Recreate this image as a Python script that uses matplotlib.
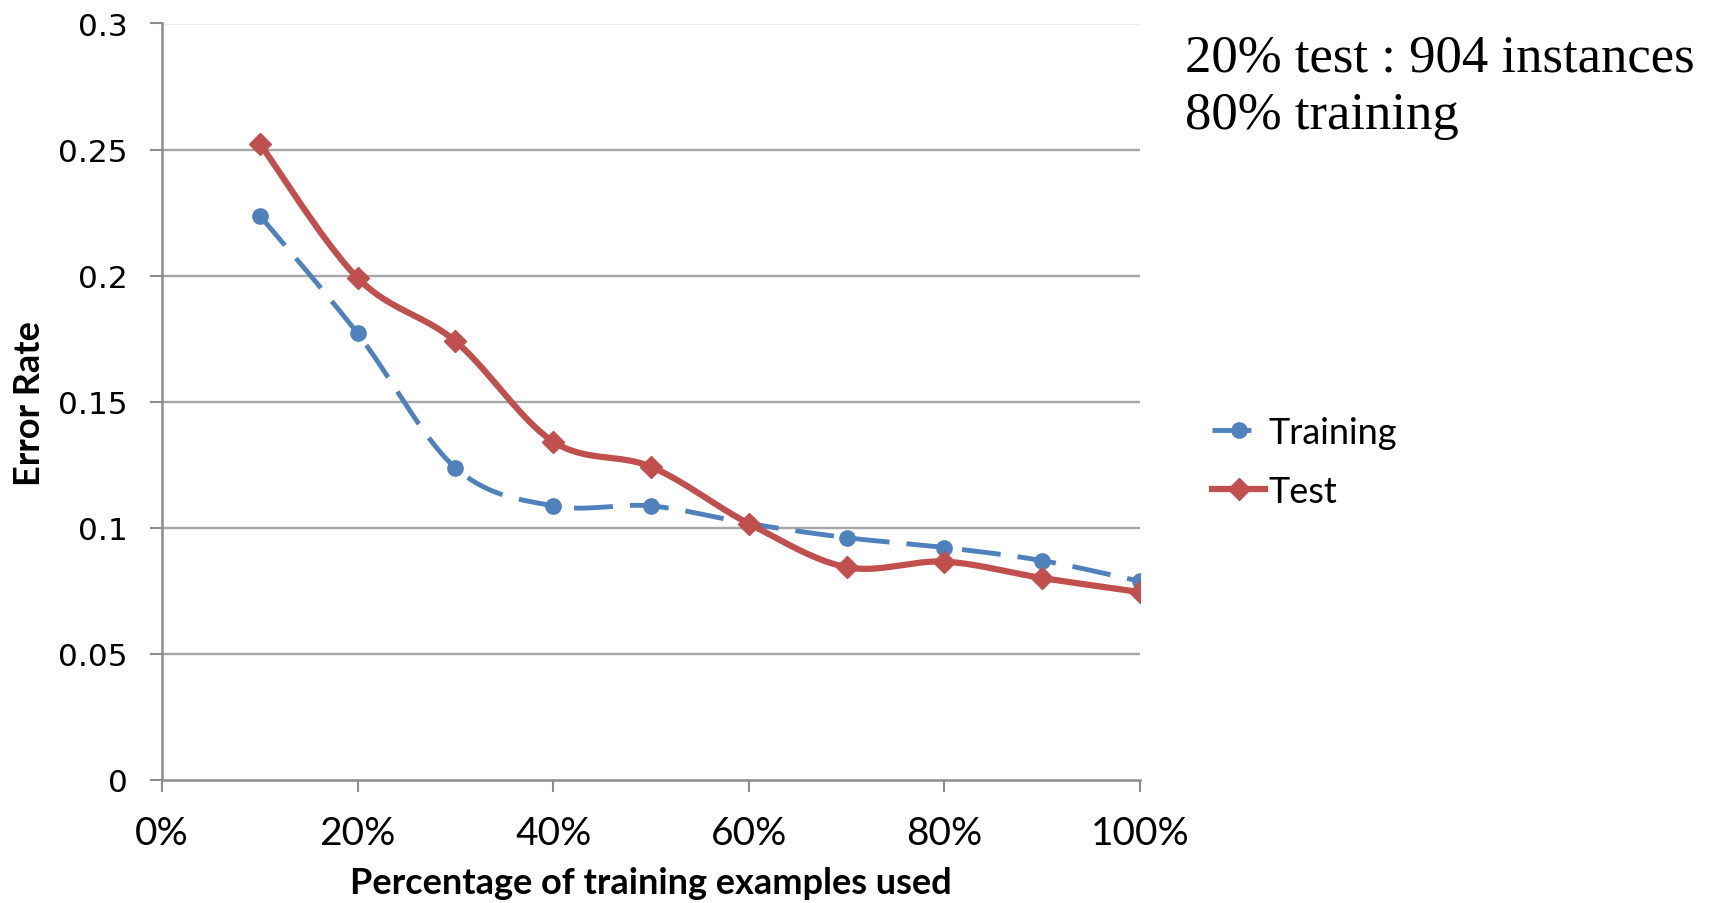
import numpy as np
import matplotlib
matplotlib.use("Agg")
import matplotlib.pyplot as plt
from matplotlib.lines import Line2D
from matplotlib.ticker import FixedLocator, FuncFormatter

# Share of the training set used (fraction) and the resulting error rates
fractions = [0.1, 0.2, 0.3, 0.4, 0.5, 0.6, 0.7, 0.8, 0.9, 1.0]
training_error = [0.2238, 0.1771, 0.1238, 0.1087, 0.1087, 0.1017, 0.0961, 0.0922, 0.0870, 0.0788]
test_error = [0.2524, 0.1991, 0.1740, 0.1342, 0.1242, 0.1017, 0.0844, 0.0866, 0.0801, 0.0745]

x_ticks = [0.0, 0.2, 0.4, 0.6, 0.8, 1.0]
y_ticks = [0.0, 0.05, 0.1, 0.15, 0.2, 0.25, 0.3]
y_tick_labels = ["0", "0.05", "0.1", "0.15", "0.2", "0.25", "0.3"]

BLUE = "#4F81BD"
RED = "#C0504D"
GRID = "#A6A6A6"
AXIS = "#8C8C8C"

TRAIN_DASH = (8, 3.5)


def smooth_curve(xs, ys, steps=40):
    """Catmull-Rom style cubic Bezier smoothing through every data point."""
    p = np.column_stack([xs, ys]).astype(float)
    ext = np.vstack([p[0], p, p[-1]])
    out = []
    t = np.linspace(0, 1, steps)[:, None]
    for i in range(len(p) - 1):
        p0, p1, p2, p3 = ext[i], ext[i + 1], ext[i + 2], ext[i + 3]
        c1 = p1 + (p2 - p0) / 6.0
        c2 = p2 - (p3 - p1) / 6.0
        seg = ((1 - t) ** 3) * p1 + 3 * ((1 - t) ** 2) * t * c1 + 3 * (1 - t) * t ** 2 * c2 + t ** 3 * p2
        out.append(seg if i == 0 else seg[1:])
    seg = np.vstack(out)
    return seg[:, 0], seg[:, 1]


fig = plt.figure(figsize=(17.15, 9.04), dpi=100)
ax = fig.add_axes([162 / 1715, 1 - 781 / 904, (1140 - 162) / 1715, (781 - 24.5) / 904])

ax.set_xlim(0, 1)
ax.set_ylim(0, 0.3)

# Horizontal gridlines
for yv in y_ticks[1:]:
    ax.axhline(yv, color=GRID, lw=1.7, zorder=1)

# Training curve (dashed, circles)
sx, sy = smooth_curve(fractions, training_error)
ax.plot(sx, sy, color=BLUE, lw=3.5, dashes=TRAIN_DASH, dash_capstyle="butt", zorder=3)
ax.plot(fractions, training_error, ls="none", marker="o", ms=11, color=BLUE, zorder=4)

# Test curve (solid, diamonds)
tx, ty = smooth_curve(fractions, test_error)
ax.plot(tx, ty, color=RED, lw=4.5, solid_capstyle="round", zorder=5)
ax.plot(fractions, test_error, ls="none", marker="D", ms=11.5, color=RED, zorder=6)

# Axes styling
for side in ("top", "right"):
    ax.spines[side].set_visible(False)
for side in ("left", "bottom"):
    ax.spines[side].set_color(AXIS)
    ax.spines[side].set_linewidth(1.8)
    ax.spines[side].set_zorder(2)

ax.xaxis.set_major_locator(FixedLocator(x_ticks))
ax.xaxis.set_major_formatter(FuncFormatter(lambda v, pos: f"{v * 100:.0f}%"))
ax.set_yticks(y_ticks)
ax.set_yticklabels(y_tick_labels)
ax.tick_params(axis="both", direction="out", length=8.5, width=1.5, color=AXIS)
ax.tick_params(axis="x", pad=17)
ax.tick_params(axis="y", pad=16)

for lab in ax.get_xticklabels():
    lab.set_family(["Liberation Sans Narrow", "Lato", "DejaVu Sans"])
    lab.set_fontsize(28)
for lab in ax.get_yticklabels():
    lab.set_family(["DejaVu Sans"])
    lab.set_fontsize(22.5)

fig.text(651 / 1715, 1 - 884 / 904, "Percentage of training examples used",
         ha="center", va="center", fontsize=26, fontweight="bold",
         family=["Lato", "DejaVu Sans"])
fig.text(29.5 / 1715, 1 - 404 / 904, "Error Rate", rotation=90,
         ha="center", va="center", fontsize=26, fontweight="bold",
         family=["Liberation Sans Narrow", "Lato", "DejaVu Sans"])

# Legend
handles = [
    Line2D([], [], color=BLUE, lw=3.5, dashes=TRAIN_DASH, marker="o", ms=11),
    Line2D([], [], color=RED, lw=4.5, marker="D", ms=11.5),
]
leg = fig.legend(handles, ["Training", "Test"], loc="center left",
                 bbox_to_anchor=(1180 / 1715, 1 - 463 / 904), frameon=False,
                 prop={"family": ["Lato", "DejaVu Sans"], "size": 26},
                 handlelength=1.45, handletextpad=0.1, labelspacing=0.72)

# Dataset split note
note_lines = ["20% test : 904 instances", "80% training"]
note_baselines = [72, 129]
for line, base in zip(note_lines, note_baselines):
    fig.text(1185 / 1715, 1 - base / 904, line, ha="left", va="baseline",
             fontsize=38, family=["Liberation Serif", "DejaVu Serif"])

fig.savefig("out.png", dpi=100)
